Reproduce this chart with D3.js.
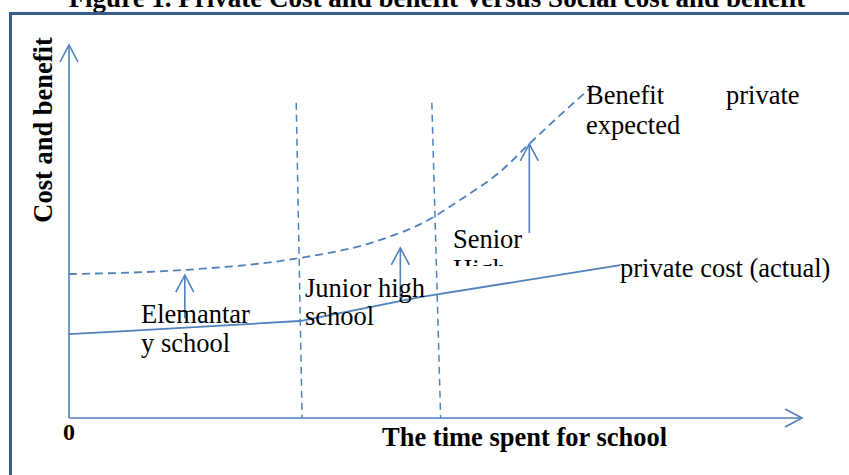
<!DOCTYPE html>
<html>
<head>
<meta charset="utf-8">
<script src="https://cdn.jsdelivr.net/npm/d3@7"></script>
<style>
  body { margin: 0; background: #fff; }
  svg { display: block; }
  text { font-family: "Liberation Serif", "Times New Roman", serif; fill: #000; }
</style>
</head>
<body>
<div id="chart"></div>
<script>
// schematic values (x: time 0-100, y: cost/benefit 0-100)
const costX = [0, 7.0, 31.5, 47.9, 75.2];
const costY = [22.5, 23.2, 26.0, 32.4, 41.0];

const benefitX = [0, 15.8, 31.5, 41.1, 49.5, 53.3, 58.8, 62.8, 67.0, 71.9];
const benefitY = [38.6, 39.7, 42.9, 46.9, 53.6, 58.4, 66.0, 73.5, 81.2, 89.8];

// school stage boundaries (top x, bottom x, top y)
const stageTopX = [31.0, 49.5];
const stageBottomX = [31.8, 50.7];
const stageTopY = 84.5;

// gap arrows between cost and benefit
const arrowX = [15.8, 45.2, 62.8];
const arrowFrom = [26.8, 31.1, 49.6];
const arrowTo = [38.3, 45.6, 73.5];

const width = 849, height = 475;
const blue = "#4f81bd";

const svg = d3.select("#chart").append("svg")
    .attr("width", width)
    .attr("height", height);

const x = d3.scaleLinear().domain([0, 100]).range([69, 802]);
const y = d3.scaleLinear().domain([0, 100]).range([418, 45]);

// title, cut off by the top of the picture as in the original
svg.append("text")
    .attr("x", 437)
    .attr("y", 7)
    .attr("text-anchor", "middle")
    .attr("font-size", 27)
    .attr("font-weight", "bold")
    .text("Figure 1. Private Cost and benefit  Versus Social cost and benefit");

// frame
svg.append("rect")
    .attr("x", 10.5)
    .attr("y", 13.5)
    .attr("width", 900)
    .attr("height", 600)
    .attr("fill", "none")
    .attr("stroke", "#385d8a")
    .attr("stroke-width", 3);

function chevron(g, tx, ty, dir) {
    // open arrow head, dir "up" or "right"
    const p = dir === "up"
        ? [[tx - 9, ty + 17], [tx, ty], [tx + 9, ty + 17]]
        : [[tx - 17, ty - 9], [tx, ty], [tx - 17, ty + 9]];
    g.append("path")
        .attr("d", d3.line()(p))
        .attr("fill", "none")
        .attr("stroke", blue)
        .attr("stroke-width", 1.6);
}

// axes
const axes = svg.append("g");
axes.append("line")
    .attr("x1", x(0)).attr("y1", y(0))
    .attr("x2", x(0)).attr("y2", y(100))
    .attr("stroke", blue).attr("stroke-width", 1.6);
axes.append("line")
    .attr("x1", x(0)).attr("y1", y(0))
    .attr("x2", x(100)).attr("y2", y(0))
    .attr("stroke", blue).attr("stroke-width", 1.6);
chevron(axes, x(0), y(100), "up");
chevron(axes, x(100), y(0), "right");

// stage boundaries
svg.append("g").selectAll("line")
    .data(stageTopX)
    .join("line")
    .attr("x1", (d) => x(d))
    .attr("y1", y(stageTopY))
    .attr("x2", (d, i) => x(stageBottomX[i]))
    .attr("y2", y(0))
    .attr("stroke", blue)
    .attr("stroke-width", 1.5)
    .attr("stroke-dasharray", "7,5");

// private cost (solid)
const costData = costX.map((d, i) => [d, costY[i]]);
svg.append("path")
    .datum(costData)
    .attr("d", d3.line().x((d) => x(d[0])).y((d) => y(d[1])))
    .attr("fill", "none")
    .attr("stroke", blue)
    .attr("stroke-width", 1.8);

// expected private benefit (dashed)
const benefitData = benefitX.map((d, i) => [d, benefitY[i]]);
svg.append("path")
    .datum(benefitData)
    .attr("d", d3.line().curve(d3.curveMonotoneX).x((d) => x(d[0])).y((d) => y(d[1])))
    .attr("fill", "none")
    .attr("stroke", blue)
    .attr("stroke-width", 1.8)
    .attr("stroke-dasharray", "8,5");

// gap arrows
const arrows = svg.append("g");
arrowX.forEach((ax, i) => {
    arrows.append("line")
        .attr("x1", x(ax)).attr("y1", y(arrowFrom[i]))
        .attr("x2", x(ax)).attr("y2", y(arrowTo[i]))
        .attr("stroke", blue).attr("stroke-width", 1.6);
    chevron(arrows, x(ax), y(arrowTo[i]), "up");
});

// labels
const fs = 26.5;
function label(tx, ty, str, opts = {}) {
    return svg.append("text")
        .attr("x", tx)
        .attr("y", ty)
        .attr("font-size", opts.size || fs)
        .attr("font-weight", opts.bold ? "bold" : "normal")
        .attr("text-anchor", opts.anchor || "start")
        .text(str);
}

label(586, 104, "Benefit");
label(726, 104, "private");
label(586, 134, "expected");
label(620, 277, "private cost (actual)");
label(305, 297, "Junior high");
label(305, 325, "school");
label(141, 323, "Elemantar");
label(141, 352, "y school");

// "Senior High" sits in a text box that cuts off its second line
svg.append("clipPath").attr("id", "seniorClip")
    .append("rect")
    .attr("x", 445).attr("y", 220)
    .attr("width", 120).attr("height", 46);
const senior = svg.append("g").attr("clip-path", "url(#seniorClip)");
senior.append("text").attr("x", 453).attr("y", 248).attr("font-size", fs).text("Senior");
senior.append("text").attr("x", 453).attr("y", 278).attr("font-size", fs).text("High");

label(x(0), 440, "0", { bold: true, size: 24, anchor: "middle" });
label(382, 446, "The time spent for school", { bold: true });

svg.append("text")
    .attr("transform", "translate(52,130) rotate(-90)")
    .attr("text-anchor", "middle")
    .attr("font-size", fs)
    .attr("font-weight", "bold")
    .text("Cost and benefit");
</script>
</body>
</html>
